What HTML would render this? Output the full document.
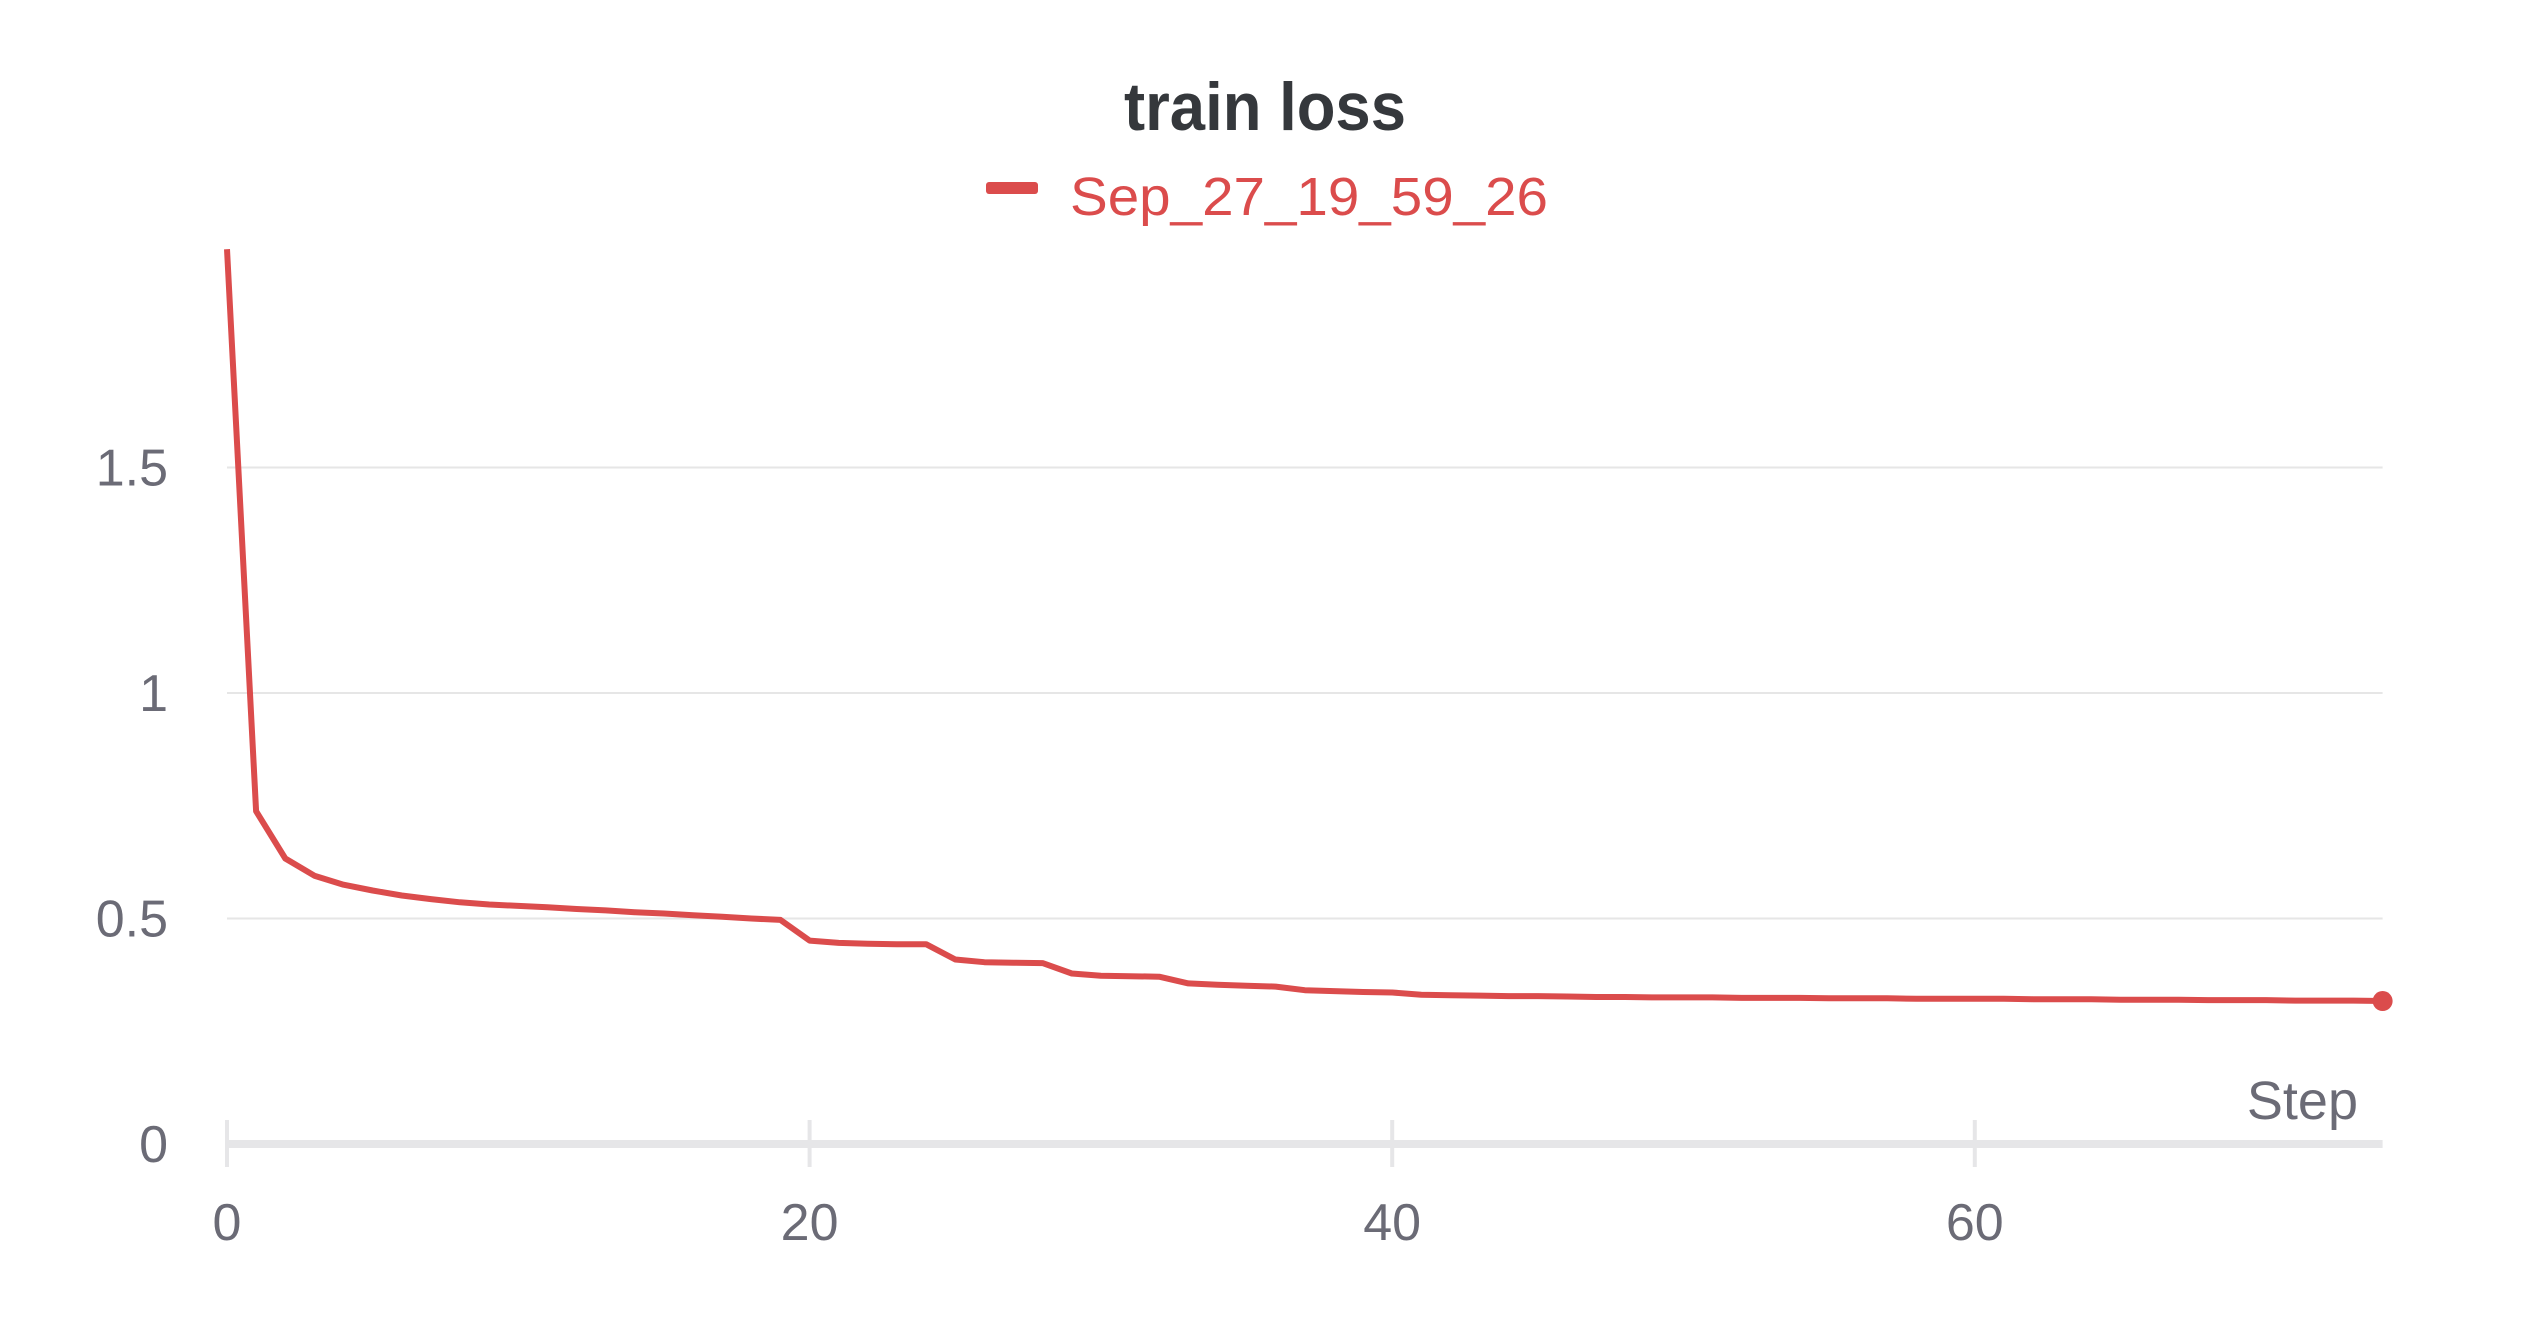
<!DOCTYPE html>
<html><head><meta charset="utf-8"><title>train loss</title>
<style>
html,body{margin:0;padding:0;background:#fff;width:2528px;height:1328px;overflow:hidden}
svg{display:block}
text{font-family:"Liberation Sans",sans-serif}
</style></head>
<body>
<svg id="chart" width="2528" height="1328" xmlns="http://www.w3.org/2000/svg">
  <text x="1265" y="130" text-anchor="middle" font-size="68" font-weight="bold" fill="#35383c" textLength="282" lengthAdjust="spacingAndGlyphs">train loss</text>
  <g>
    <rect x="986" y="182" width="52" height="12" rx="3" fill="#db4c4c"/>
    <text x="1070" y="215" font-size="54" fill="#db4c4c" textLength="478" lengthAdjust="spacingAndGlyphs">Sep_27_19_59_26</text>
  </g>
  <g id="grid"></g>
  <g id="axes"></g>
  <g id="series"></g>
</svg>
<script>
const steps = [];
for (let i = 0; i <= 74; i++) steps.push(i);
const lossValues = [1.984,0.738,0.633,0.595,0.575,0.562,0.551,0.543,0.536,0.531,
0.528,0.525,0.521,0.518,0.514,0.511,0.507,0.504,0.500,0.497,
0.451,0.446,0.444,0.443,0.443,0.409,0.403,0.402,0.401,0.378,
0.373,0.372,0.371,0.356,0.353,0.351,0.349,0.341,0.339,0.337,
0.336,0.331,0.330,0.329,0.328,0.328,0.327,0.326,0.326,0.325,
0.325,0.325,0.324,0.324,0.324,0.323,0.323,0.323,0.322,0.322,
0.322,0.322,0.321,0.321,0.321,0.320,0.320,0.320,0.319,0.319,
0.319,0.318,0.318,0.318,0.317];
const xTicks = [0,20,40,60];
const xTickLabels = ["0","20","40","60"];
const yTicks = [0,0.5,1,1.5];
const yTickLabels = ["0","0.5","1","1.5"];

const NS = "http://www.w3.org/2000/svg";
const X0 = 227, XPER = 29.13, Y0 = 1144, YPER = 451;
const xScale = s => X0 + s * XPER;
const yScale = v => Y0 - v * YPER;
const plotRight = xScale(steps[steps.length - 1]);
function mk(tag, attrs, parent) {
  const el = document.createElementNS(NS, tag);
  for (const k in attrs) el.setAttribute(k, attrs[k]);
  parent.appendChild(el);
  return el;
}
const grid = document.getElementById('grid');
const axes = document.getElementById('axes');
const series = document.getElementById('series');

yTicks.forEach((v, i) => {
  if (v !== 0) {
    const gl = mk('line', {x1: X0, x2: plotRight, y1: yScale(v), y2: yScale(v), stroke: '#e6e6e6', 'stroke-width': 2}, grid);
    
    
  }
  const t = mk('text', {x: 168, y: yScale(v) + 18, 'text-anchor': 'end', 'font-size': 52, fill: '#6b6b76'}, axes);
  t.textContent = yTickLabels[i];
  
  
});

const band = mk('rect', {x: X0, y: Y0 - 4, width: plotRight - X0, height: 8, fill: '#e6e6e8'}, axes);



xTicks.forEach((s, i) => {
  const tk = mk('rect', {x: xScale(s) - 2, y: 1120, width: 4, height: 47, fill: '#e6e6e8'}, axes);
  
  
  const t = mk('text', {x: xScale(s), y: 1240, 'text-anchor': 'middle', 'font-size': 52, fill: '#6b6b76'}, axes);
  t.textContent = xTickLabels[i];
  
  
});

const xt = mk('text', {x: 2358, y: 1119, 'text-anchor': 'end', 'font-size': 54, fill: '#6b6b76'}, axes);
xt.textContent = 'Step';



const pts = steps.map((s, i) => xScale(s).toFixed(1) + ',' + yScale(lossValues[i]).toFixed(1)).join(' ');
const line = mk('polyline', {points: pts, fill: 'none', stroke: '#db4c4c', 'stroke-width': 6, 'stroke-linejoin': 'round'}, series);



const last = steps.length - 1;
const dot = mk('circle', {cx: xScale(steps[last]), cy: yScale(lossValues[last]), r: 10, fill: '#db4c4c'}, series);


</script>
</body></html>
